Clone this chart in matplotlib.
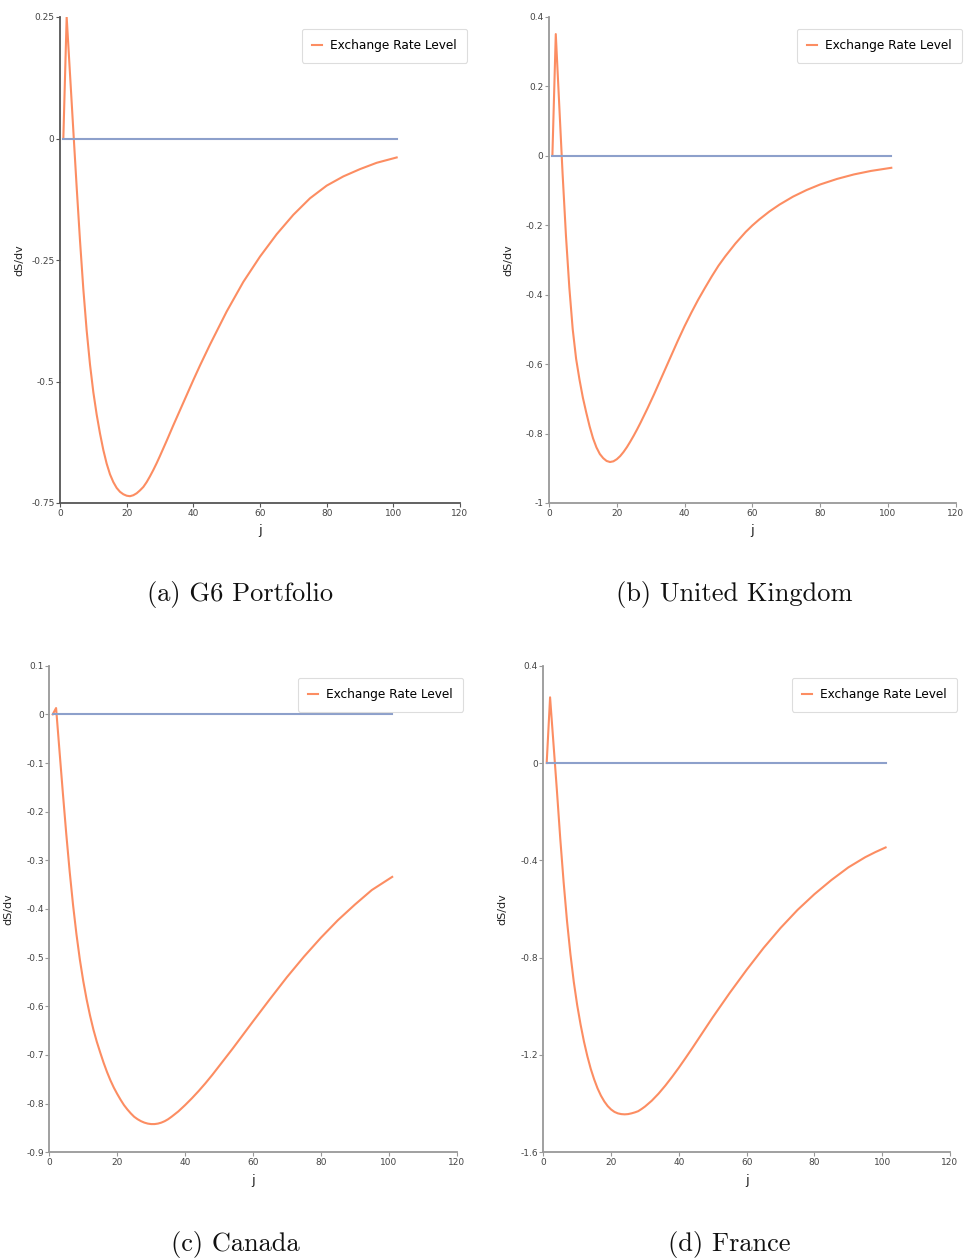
import matplotlib
matplotlib.use("Agg")
import matplotlib.pyplot as plt

plt.rcParams["axes.unicode_minus"] = False
plt.rcParams["font.family"] = ["DejaVu Sans"]

ORANGE = "#fc8d62"
BLUE = "#8da0cb"

# Response of the exchange rate level, dS/dv, by horizon j
j_g6 = [1, 2, 3, 4, 5, 6, 7, 8, 9, 10, 11, 12, 13, 14, 15, 16, 17, 18, 19, 20,
        21, 22, 23, 24, 25, 26, 27, 28, 29, 30, 32, 34, 36, 38, 40, 42, 45, 50,
        55, 60, 65, 70, 75, 80, 85, 90, 95, 101]
s_g6 = [0.0, 0.25, 0.133, 0.016, -0.10, -0.21, -0.31, -0.395, -0.465, -0.522,
        -0.568, -0.607, -0.641, -0.669, -0.691, -0.707, -0.719, -0.727, -0.732,
        -0.735, -0.736, -0.734, -0.730, -0.724, -0.717, -0.707, -0.695, -0.682,
        -0.668, -0.653, -0.622, -0.590, -0.559, -0.528, -0.497, -0.467, -0.424,
        -0.356, -0.295, -0.243, -0.197, -0.157, -0.123, -0.097, -0.078, -0.063,
        -0.050, -0.039]

j_uk = [1, 2, 3, 4, 5, 6, 7, 8, 9, 10, 11, 12, 13, 14, 15, 16, 17, 18, 19, 20,
        21, 22, 23, 24, 25, 26, 27, 28, 29, 30, 31, 32, 33, 34, 35, 36, 37, 38,
        39, 40, 42, 44, 46, 48, 50, 52, 55, 58, 60, 62, 65, 68, 72, 76, 80, 85,
        90, 95, 101]
s_uk = [0.0, 0.35, 0.15, -0.05, -0.23, -0.38, -0.50, -0.585, -0.645, -0.697,
        -0.740, -0.780, -0.814, -0.840, -0.859, -0.871, -0.879, -0.882, -0.880,
        -0.874, -0.865, -0.853, -0.839, -0.823, -0.806, -0.788, -0.769, -0.749,
        -0.729, -0.708, -0.687, -0.665, -0.643, -0.621, -0.599, -0.577, -0.555,
        -0.533, -0.512, -0.491, -0.452, -0.415, -0.381, -0.348, -0.317, -0.290,
        -0.253, -0.220, -0.201, -0.184, -0.161, -0.141, -0.118, -0.099, -0.083,
        -0.067, -0.054, -0.044, -0.035]

j_ca = [1, 2, 3, 4, 5, 6, 7, 8, 9, 10, 11, 12, 13, 14, 15, 16, 17, 18, 19, 20,
        21, 22, 23, 24, 25, 26, 27, 28, 29, 30, 31, 32, 33, 34, 35, 36, 38, 40,
        42, 44, 46, 48, 50, 52, 54, 57, 60, 65, 70, 75, 80, 85, 90, 95, 101]
s_ca = [0.0, 0.013, -0.075, -0.162, -0.246, -0.323, -0.392, -0.452, -0.504,
        -0.548, -0.586, -0.619, -0.648, -0.673, -0.695, -0.716, -0.735, -0.752,
        -0.767, -0.780, -0.792, -0.803, -0.812, -0.820, -0.827, -0.832, -0.836,
        -0.839, -0.841, -0.842, -0.842, -0.841, -0.839, -0.836, -0.832, -0.827,
        -0.816, -0.803, -0.789, -0.774, -0.758, -0.741, -0.723, -0.705, -0.687,
        -0.659, -0.631, -0.585, -0.540, -0.498, -0.459, -0.423, -0.391, -0.361,
        -0.334]

j_fr = [1, 2, 3, 4, 5, 6, 7, 8, 9, 10, 11, 12, 13, 14, 15, 16, 17, 18, 19, 20,
        21, 22, 23, 24, 25, 26, 27, 28, 29, 30, 32, 34, 36, 38, 40, 42, 44, 46,
        48, 50, 55, 60, 65, 70, 75, 80, 85, 90, 95, 98, 101]
s_fr = [0.0, 0.27, 0.08, -0.11, -0.31, -0.49, -0.65, -0.785, -0.90, -0.995,
        -1.075, -1.145, -1.205, -1.257, -1.300, -1.337, -1.367, -1.391, -1.410,
        -1.424, -1.434, -1.440, -1.443, -1.444, -1.443, -1.440, -1.436, -1.431,
        -1.422, -1.412, -1.388, -1.359, -1.326, -1.290, -1.252, -1.212, -1.171,
        -1.129, -1.087, -1.045, -0.945, -0.850, -0.760, -0.678, -0.604, -0.539,
        -0.481, -0.429, -0.387, -0.366, -0.347]

x_ticks = [0, 20, 40, 60, 80, 100, 120]

panels = [
    dict(j=j_g6, s=s_g6, caption="(a) G6 Portfolio",
         yticks=[0.25, 0, -0.25, -0.5, -0.75],
         ylabels=["0.25", "0", "-0.25", "-0.5", "-0.75"],
         rect=[60, 17, 460, 503], leg=(467, 29), cap=(240, 595), spine="#555555"),
    dict(j=j_uk, s=s_uk, caption="(b) United Kingdom",
         yticks=[0.4, 0.2, 0, -0.2, -0.4, -0.6, -0.8, -1],
         ylabels=["0.4", "0.2", "0", "-0.2", "-0.4", "-0.6", "-0.8", "-1"],
         rect=[549, 16.7, 955.7, 503], leg=(962, 29), cap=(734, 595), spine="#999999"),
    dict(j=j_ca, s=s_ca, caption="(c) Canada",
         yticks=[0.1, 0, -0.1, -0.2, -0.3, -0.4, -0.5, -0.6, -0.7, -0.8, -0.9],
         ylabels=["0.1", "0", "-0.1", "-0.2", "-0.3", "-0.4", "-0.5", "-0.6",
                  "-0.7", "-0.8", "-0.9"],
         rect=[49.3, 665.7, 456.7, 1152.3], leg=(463, 678), cap=(235, 1244), spine="#999999"),
    dict(j=j_fr, s=s_fr, caption="(d) France",
         yticks=[0.4, 0, -0.4, -0.8, -1.2, -1.6],
         ylabels=["0.4", "0", "-0.4", "-0.8", "-1.2", "-1.6"],
         rect=[543.3, 665.7, 950, 1152.3], leg=(957, 678), cap=(729, 1244), spine="#999999"),
]

W, H = 964, 1260
fig = plt.figure(figsize=(W / 100, H / 100), dpi=100)

for p in panels:
    x0, y0, x1, y1 = p["rect"]
    ax = fig.add_axes([x0 / W, 1 - y1 / H, (x1 - x0) / W, (y1 - y0) / H])
    line, = ax.plot(p["j"], p["s"], color=ORANGE, lw=1.5, label="Exchange Rate Level",
                    zorder=2)
    ax.plot([p["j"][0], p["j"][-1]], [0, 0], color=BLUE, lw=1.5, zorder=3)

    ax.set_xlim(0, 120)
    ax.set_ylim(p["yticks"][-1], p["yticks"][0])
    ax.set_xticks(x_ticks)
    ax.set_xticklabels([str(t) for t in x_ticks])
    ax.set_yticks(p["yticks"])
    ax.set_yticklabels(p["ylabels"])

    for side in ("top", "right"):
        ax.spines[side].set_visible(False)
    for side in ("left", "bottom"):
        ax.spines[side].set_color(p["spine"])
        ax.spines[side].set_linewidth(1.3)
    ax.tick_params(axis="both", direction="out", length=3, width=0.8,
                   colors=p["spine"], labelcolor="#444444", labelsize=6.5, pad=1)

    ax.set_xlabel("j", fontsize=9.5, color="#222222")
    ax.xaxis.set_label_coords(0.5, -0.044)
    ax.set_ylabel("dS/dv", fontsize=8, color="#222222")
    ax.yaxis.set_label_coords(-0.088, 0.5)

    lx, ly = p["leg"]
    leg = ax.legend(handles=[line], loc="upper right",
                    bbox_to_anchor=(lx / W, 1 - ly / H), bbox_transform=fig.transFigure,
                    borderaxespad=0, fontsize=8.7, handlelength=0.8, handletextpad=0.7,
                    borderpad=0.85, frameon=True, fancybox=True, framealpha=1)
    leg.get_frame().set_edgecolor("#dddddd")
    leg.get_frame().set_linewidth(0.8)

    cx, cy = p["cap"]
    fig.text(cx / W, 1 - cy / H, p["caption"], ha="center", va="center",
             fontsize=19, family="cmr10", color="#111111")

fig.savefig("out.png", dpi=100)
